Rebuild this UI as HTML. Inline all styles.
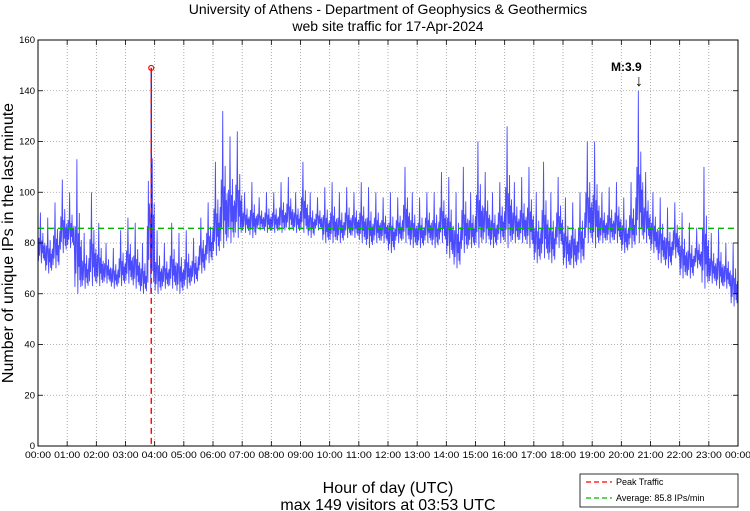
<!DOCTYPE html>
<html><head><meta charset="utf-8"><style>
body{margin:0;background:#fff;}
svg{display:block;font-family:"Liberation Sans",sans-serif;}
</style></head><body>
<svg id="chart" width="750" height="511" viewBox="0 0 750 511">
<text x="388" y="14" font-size="14" text-anchor="middle">University of Athens - Department of Geophysics &amp; Geothermics</text>
<text x="388" y="31" font-size="14" text-anchor="middle">web site traffic for 17-Apr-2024</text>
<g id="grid"></g>
<g id="series"></g>
<g id="axes"></g>
<text transform="translate(13,243) rotate(-90)" font-size="16" text-anchor="middle">Number of unique IPs in the last minute</text>
<text x="388" y="493" font-size="16" text-anchor="middle">Hour of day (UTC)</text>
<text x="388" y="510" font-size="16" text-anchor="middle">max 149 visitors at 03:53 UTC</text>
<text x="611" y="71" font-size="12" font-weight="bold">M:3.9</text>
<text x="635" y="86" font-size="16">↓</text>
<g>
<rect x="580" y="474" width="158" height="33" fill="#fff" stroke="#000" stroke-width="0.8"/>
<line x1="586" y1="482" x2="612" y2="482" stroke="#f00" stroke-width="1.3" stroke-dasharray="5,3"/>
<text x="616" y="485" font-size="9">Peak Traffic</text>
<line x1="586" y1="498" x2="612" y2="498" stroke="#0b0" stroke-width="1.3" stroke-dasharray="5,3"/>
<text x="616" y="501" font-size="9">Average: 85.8 IPs/min</text>
</g>
</svg>
<script>
const hourLabels=["00:00","01:00","02:00","03:00","04:00","05:00","06:00","07:00","08:00","09:00","10:00","11:00","12:00","13:00","14:00","15:00","16:00","17:00","18:00","19:00","20:00","21:00","22:00","23:00","00:00"];
const yTicks=[0,20,40,60,80,100,120,140,160];
const binHi=[92,90,96,105, 100,113,84,100, 88,80,78,85, 90,88,80,149, 85,80,88,84, 85,82,90,96,
112,132,122,124, 100,104,98,100, 100,104,106,100, 112,100,98,102, 104,100,102,100, 104,102,100,98,
100,98,110,100, 98,100,100,108, 106,100,110,100, 120,108,100,104, 126,104,106,110, 100,112,100,106,
98,96,100,120, 120,100,102,104, 98,104,140,108, 100,98,94,96, 92,88,86,110, 84,86,80,80];
const binLo=[72,68,70,76, 78,60,62,63, 63,64,62,63, 64,62,60,60, 60,62,62,60, 62,64,68,72,
75,78,80,82, 84,82,85,84, 84,84,85,84, 84,82,85,80, 80,80,82,82, 80,78,80,80,
76,80,80,78, 78,80,78,80, 74,70,76,78, 78,80,78,80, 78,80,80,78, 72,74,72,78,
70,70,72,80, 78,80,80,80, 76,78,80,80, 76,72,70,74, 66,66,70,62, 64,62,62,55];
const peakValue=149, peakHour=3+53/60, averageValue=85.8;
const shape=[0.3,0.05,0.5,0.15,0.4,1.0,0.3,0,0.45,0.2,0.6,0.1,0.35,0.05,0.4];

const X0=38,X1=738,Y0=446,Y1=40;
const xs=h=>X0+(X1-X0)*h/24, ys=v=>Y0-(Y0-Y1)*v/160;
const NS="http://www.w3.org/2000/svg";
function mk(tag,attrs,parent){const e=document.createElementNS(NS,tag);for(const k in attrs)e.setAttribute(k,attrs[k]);parent.appendChild(e);return e;}
const grid=document.getElementById('grid'),axes=document.getElementById('axes'),series=document.getElementById('series');
hourLabels.forEach((l,i)=>{const x=xs(i);
 if(i>0&&i<24){const g=mk('line',{x1:x,y1:Y1,x2:x,y2:Y0,stroke:'#999','stroke-width':0.8,'stroke-dasharray':'1,2'},grid);
 
 }
 mk('line',{x1:x,y1:Y0,x2:x,y2:Y0-5,stroke:'#000','stroke-width':0.8},axes);
 mk('line',{x1:x,y1:Y1,x2:x,y2:Y1+5,stroke:'#000','stroke-width':0.8},axes);
 const tx=mk('text',{x:x,y:Y0+12,'font-size':9.5,'text-anchor':'middle',textLength:26,lengthAdjust:'spacingAndGlyphs'},axes);
 tx.textContent=l;
 
 
});
yTicks.forEach(v=>{const y=ys(v);
 if(v>0&&v<160){const g=mk('line',{x1:X0,y1:y,x2:X1,y2:y,stroke:'#999','stroke-width':0.8,'stroke-dasharray':'1,2'},grid);
 
 }
 mk('line',{x1:X0,y1:y,x2:X0+5,y2:y,stroke:'#000','stroke-width':0.8},axes);
 mk('line',{x1:X1,y1:y,x2:X1-5,y2:y,stroke:'#000','stroke-width':0.8},axes);
 const tx=mk('text',{x:X0-3,y:y+3,'font-size':9.5,'text-anchor':'end'},axes);
 tx.textContent=v;
 
 
});
mk('rect',{x:X0,y:Y1,width:X1-X0,height:Y0-Y1,fill:'none',stroke:'#000','stroke-width':1},axes);
let pts=[];
binHi.forEach((hi,b)=>{const lo=binLo[b];
 shape.forEach((f,k)=>{let v=lo+(hi-lo)*f;
  if(b===15&&f===1){return;}
  const h=(b*15+k)/60;pts.push(xs(h).toFixed(2)+','+ys(v).toFixed(2));});
});
const line=mk('polyline',{points:pts.join(' '),fill:'none',stroke:'#00f','stroke-width':0.9,opacity:0.7},series);


const sp=mk('line',{x1:xs(peakHour),y1:ys(70),x2:xs(peakHour),y2:ys(peakValue),stroke:'#00f','stroke-width':1.2},series);


const avg=mk('line',{x1:X0,y1:ys(averageValue),x2:X1,y2:ys(averageValue),stroke:'#0b0','stroke-width':1.4,'stroke-dasharray':'6,4'},series);


const pk=mk('line',{x1:xs(peakHour),y1:ys(peakValue),x2:xs(peakHour),y2:Y0,stroke:'#f00','stroke-width':1.4,'stroke-dasharray':'6,4'},series);


const c=mk('circle',{cx:xs(peakHour),cy:ys(peakValue),r:2.5,fill:'none',stroke:'#f00','stroke-width':1.2},series);


</script>
</body></html>
